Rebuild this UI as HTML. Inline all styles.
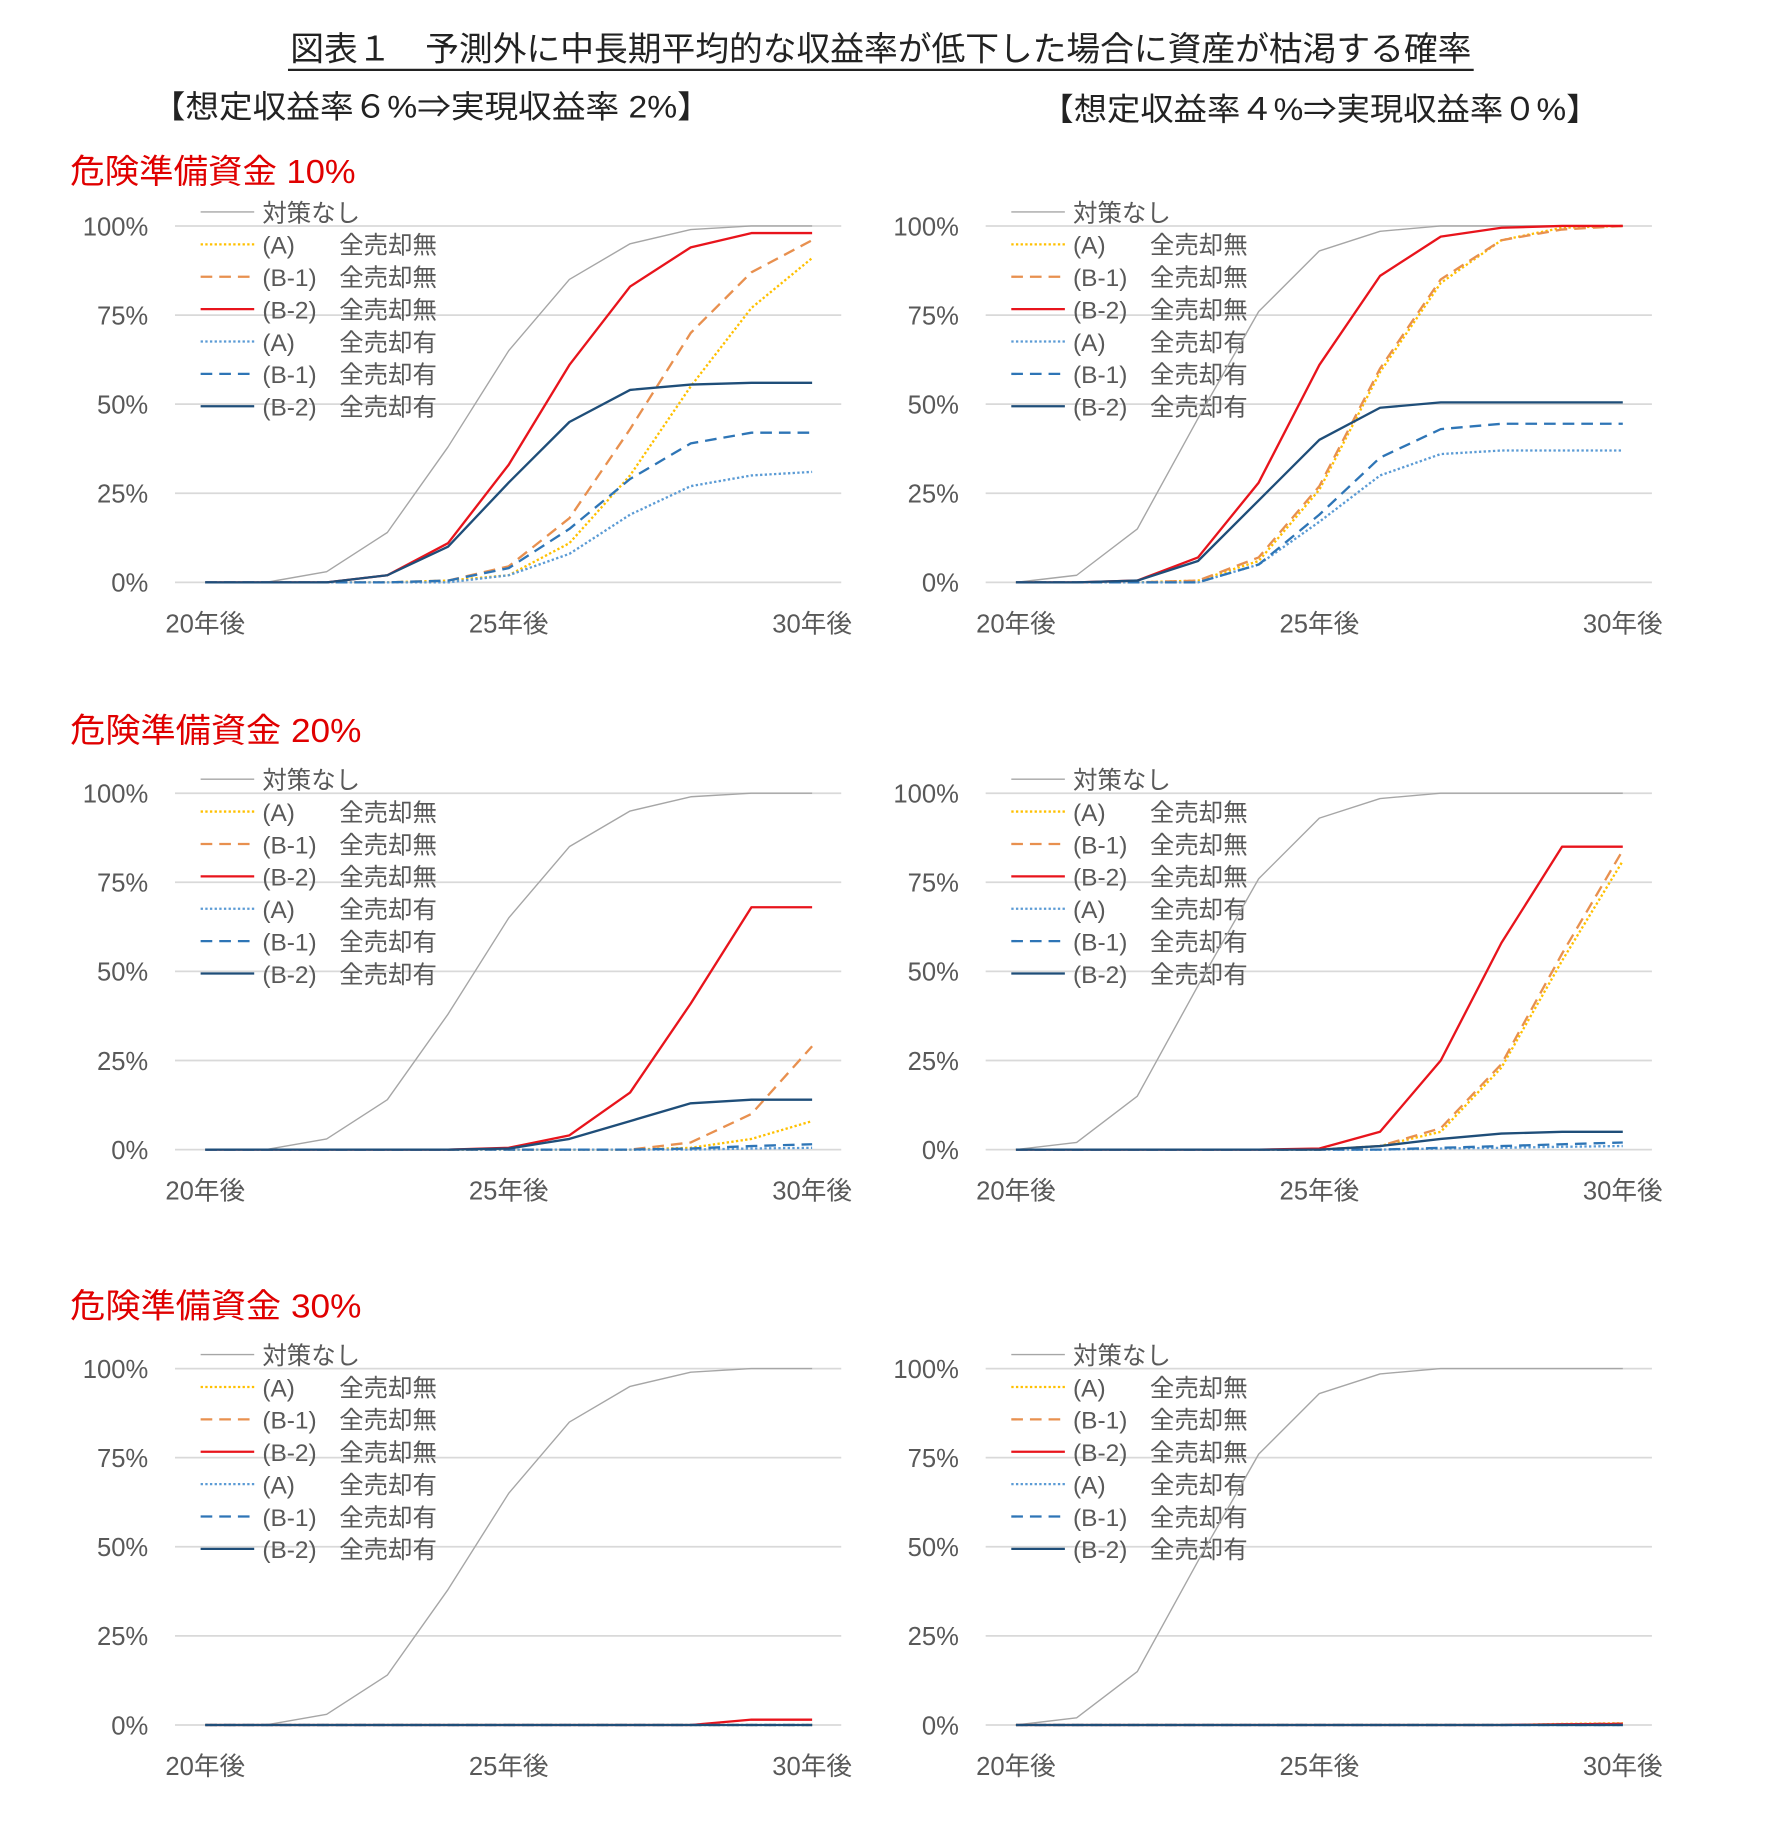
<!DOCTYPE html>
<html><head><meta charset="utf-8">
<style>
html,body{margin:0;padding:0;background:#fff;}
svg{display:block;font-family:"Liberation Sans","Noto Sans CJK JP",sans-serif;}
</style></head>
<body>
<svg id="root" width="1771" height="1824" viewBox="0 0 1520 1566" xmlns="http://www.w3.org/2000/svg">
<rect width="1520" height="1566" fill="#fff"/>
<text x="249" y="52" textLength="1014" lengthAdjust="spacingAndGlyphs" font-size="29" fill="#222">図表１　予測外に中長期平均的な収益率が低下した場合に資産が枯渇する確率</text>
<line x1="247" y1="60" x2="1265" y2="60" stroke="#222" stroke-width="2"/>
<text x="130" y="101" textLength="480" lengthAdjust="spacingAndGlyphs" font-size="27" fill="#222">【想定収益率６%⇒実現収益率 2%】</text>
<text x="893" y="103" textLength="480" lengthAdjust="spacingAndGlyphs" font-size="27" fill="#222">【想定収益率４%⇒実現収益率０%】</text>
<text x="60" y="157" textLength="245" lengthAdjust="spacingAndGlyphs" font-size="29" fill="#e00000">危険準備資金 10%</text>
<text x="60" y="637" textLength="250" lengthAdjust="spacingAndGlyphs" font-size="29" fill="#e00000">危険準備資金 20%</text>
<text x="60" y="1131" textLength="250" lengthAdjust="spacingAndGlyphs" font-size="29" fill="#e00000">危険準備資金 30%</text>
</svg>
<script>
const categories = ['20年後','21','22','23','24','25年後','26','27','28','29','30年後'];
const yTicks = [0,25,50,75,100];
const yTickLabels = ['0%','25%','50%','75%','100%'];
const xTickLabels = ['20年後','25年後','30年後'];
const seriesNames = ['対策なし','(A)　 全売却無','(B-1) 全売却無','(B-2) 全売却無','(A)　 全売却有','(B-1) 全売却有','(B-2) 全売却有'];
const grayLeft  = [0,0,3,14,38,65,85,95,99,100,100];
const grayRight = [0,2,15,46,76,93,98.5,100,100,100,100];
// Row 1 left
const r1L_A0 = [0,0,0,0,0.5,2,11,30,55,77,91];
const r1L_B10 = [0,0,0,0,0.5,4.5,18,43,70,87,96];
const r1L_B20 = [0,0,0,2,11,33,61,83,94,98,98];
const r1L_A1 = [0,0,0,0,0,2,8,19,27,30,31];
const r1L_B11 = [0,0,0,0,0.5,4,15,29,39,42,42];
const r1L_B21 = [0,0,0,2,10,28,45,54,55.5,56,56];
// Row 1 right
const r1R_A0 = [0,0,0,0.5,6,26,59,84,96,99.5,100];
const r1R_B10 = [0,0,0,0.5,7,27,60,85,96,99,100];
const r1R_B20 = [0,0,0.5,7,28,61,86,97,99.5,100,100];
const r1R_A1 = [0,0,0,0,5,17,30,36,37,37,37];
const r1R_B11 = [0,0,0,0,5,19,35,43,44.5,44.5,44.5];
const r1R_B21 = [0,0,0.5,6,23,40,49,50.5,50.5,50.5,50.5];
// Row 2 left
const r2L_A0 = [0,0,0,0,0,0,0,0,0.5,3,8];
const r2L_B10 = [0,0,0,0,0,0,0,0,2,10,29];
const r2L_B20 = [0,0,0,0,0,0.5,4,16,41,68,68];
const r2L_A1 = [0,0,0,0,0,0,0,0,0,0.3,0.5];
const r2L_B11 = [0,0,0,0,0,0,0,0,0.3,1,1.5];
const r2L_B21 = [0,0,0,0,0,0.3,3,8,13,14,14];
// Row 2 right
const r2R_A0 = [0,0,0,0,0,0,1,5,23,53,81];
const r2R_B10 = [0,0,0,0,0,0,1,6,24,55,84];
const r2R_B20 = [0,0,0,0,0,0.3,5,25,58,85,85];
const r2R_A1 = [0,0,0,0,0,0,0,0.3,0.5,0.8,1];
const r2R_B11 = [0,0,0,0,0,0,0,0.5,1,1.5,2];
const r2R_B21 = [0,0,0,0,0,0,1,3,4.5,5,5];
// Row 3 left
const r3L_A0 = [0,0,0,0,0,0,0,0,0,0,0];
const r3L_B10 = [0,0,0,0,0,0,0,0,0,0,0];
const r3L_B20 = [0,0,0,0,0,0,0,0,0,1.5,1.5];
const r3L_A1 = [0,0,0,0,0,0,0,0,0,0,0];
const r3L_B11 = [0,0,0,0,0,0,0,0,0,0,0];
const r3L_B21 = [0,0,0,0,0,0,0,0,0,0,0];
// Row 3 right
const r3R_A0 = [0,0,0,0,0,0,0,0,0,0.3,0.5];
const r3R_B10 = [0,0,0,0,0,0,0,0,0,0.2,0.4];
const r3R_B20 = [0,0,0,0,0,0,0,0,0,0.2,0.3];
const r3R_A1 = [0,0,0,0,0,0,0,0,0,0,0];
const r3R_B11 = [0,0,0,0,0,0,0,0,0,0,0];
const r3R_B21 = [0,0,0,0,0,0,0,0,0,0,0];

const styles = [
 {c:'#a6a6a6',w:1.2,d:''},
 {c:'#ffc000',w:2,d:'2 2'},
 {c:'#e8904f',w:2,d:'10 6'},
 {c:'#e8141c',w:2,d:''},
 {c:'#5b9bd5',w:2,d:'2 2'},
 {c:'#2e75b6',w:2,d:'10 6'},
 {c:'#1f4e79',w:2,d:''}
];
const NS='http://www.w3.org/2000/svg';
const root=document.getElementById('root');
function mk(tag,attrs,parent){const e=document.createElementNS(NS,tag);for(const k in attrs)e.setAttribute(k,attrs[k]);(parent||root).appendChild(e);return e;}

function drawChart(id,ox,top,series){
  const g=mk('g',{});
  
  
  const gx0=ox+150, gx1=ox+722, px0=ox+176, px1=ox+697, y100=top, y0=top+306;
  const xs=i=>px0+(px1-px0)*i/(categories.length-1);
  const ys=v=>y0-(y0-y100)*v/100;
  yTicks.forEach((t,i)=>{
    const l=mk('line',{x1:gx0,x2:gx1,y1:ys(t),y2:ys(t),stroke:'#d9d9d9','stroke-width':1.5},g);
    
    
    const tx=mk('text',{x:ox+127,y:ys(t)+8,'text-anchor':'end','font-size':22,fill:'#595959'},g);
    tx.textContent=yTickLabels[i];
    
    
  });
  xTickLabels.forEach((lab,i)=>{
    const tx=mk('text',{x:xs(i*5),y:y0+43,'text-anchor':'middle','font-size':22,fill:'#595959'},g);
    tx.textContent=lab;
    
    
  });
  seriesNames.forEach((n,i)=>{
    const ly=top-12+i*27.8;
    const s=styles[i];
    const l=mk('line',{x1:ox+172,x2:ox+218,y1:ly,y2:ly,stroke:s.c,'stroke-width':s.w,'stroke-dasharray':s.d},g);
    
    
    const parts=n.split(/[ 　]+/);
    const t1=mk('text',{x:ox+225,y:ly+8,'font-size':21,fill:'#595959'},g);
    t1.textContent=parts[0];
    
    
    if(parts[1]){
      const t2=mk('text',{x:ox+291,y:ly+8,'font-size':21,fill:'#595959'},g);
      t2.textContent=parts[1];
      
      
    }
  });
  series.forEach((arr,i)=>{
    const s=styles[i];
    const p=mk('polyline',{points:arr.map((v,j)=>xs(j)+','+ys(v)).join(' '),fill:'none',stroke:s.c,'stroke-width':s.w,'stroke-dasharray':s.d,'stroke-linejoin':'round'},g);
    
    
  });
}
drawChart('10-left',0,194,[grayLeft,r1L_A0,r1L_B10,r1L_B20,r1L_A1,r1L_B11,r1L_B21]);
drawChart('10-right',696,194,[grayRight,r1R_A0,r1R_B10,r1R_B20,r1R_A1,r1R_B11,r1R_B21]);
drawChart('20-left',0,681,[grayLeft,r2L_A0,r2L_B10,r2L_B20,r2L_A1,r2L_B11,r2L_B21]);
drawChart('20-right',696,681,[grayRight,r2R_A0,r2R_B10,r2R_B20,r2R_A1,r2R_B11,r2R_B21]);
drawChart('30-left',0,1175,[grayLeft,r3L_A0,r3L_B10,r3L_B20,r3L_A1,r3L_B11,r3L_B21]);
drawChart('30-right',696,1175,[grayRight,r3R_A0,r3R_B10,r3R_B20,r3R_A1,r3R_B11,r3R_B21]);
</script>
</body></html>
